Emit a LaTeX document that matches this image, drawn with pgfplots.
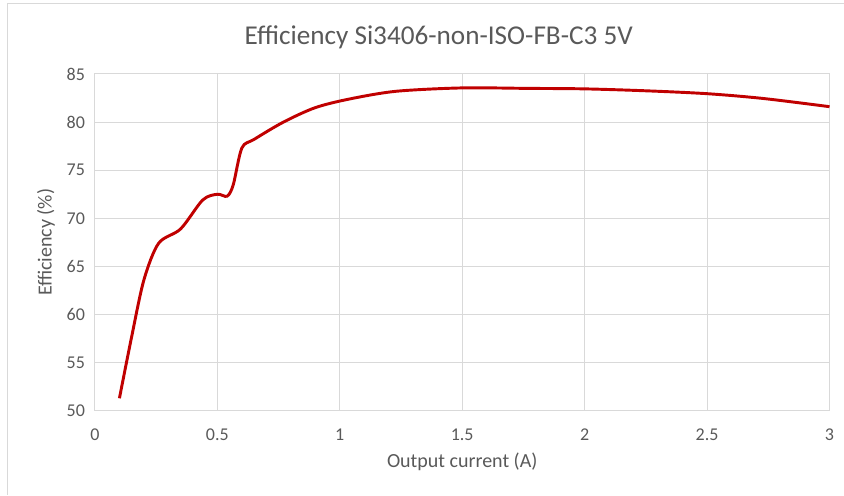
\documentclass[border=0pt]{standalone}
\usepackage{pgfplots}
\pgfplotsset{compat=1.18}
\usepackage{fontspec}
\setmainfont{Carlito}
\definecolor{txt}{HTML}{595959}
\definecolor{grd}{HTML}{D9D9D9}
\definecolor{ln}{HTML}{C00000}
\begin{document}
\begin{tikzpicture}
\path (0,0) rectangle (633pt,371.25pt);
\draw[grd, line width=0.75pt] (6pt,0pt) -- (6pt,368.25pt) -- (633pt,368.25pt);
\node[txt, font=\fontsize{20.4}{22}\selectfont] at (329.25pt,343.5pt) {Efficiency Si3406-non-ISO-FB-C3 5V};
\begin{axis}[
  at={(71.25pt,63pt)}, anchor=south west,
  width=551.25pt, height=252.75pt, scale only axis,
  xmin=0, xmax=3, ymin=50, ymax=85,
  xtick={0,0.5,...,3}, ytick={50,55,...,85},
  xticklabels={0,0.5,1,1.5,2,2.5,3},
  grid=major,
  major grid style={grd, line width=0.75pt},
  axis line style={grd, line width=0.75pt},
  tick style={draw=none},
  /pgf/number format/assume math mode=true,
  ticklabel style={txt, font=\fontsize{13.5}{15}\selectfont},
  xticklabel style={yshift=-10pt},
  yticklabel style={xshift=-4pt},
  xlabel={Output current (A)}, ylabel={Efficiency (\%)},
  label style={txt, font=\fontsize{15}{17}\selectfont},
  xlabel style={yshift=-2pt},
  ylabel style={yshift=2pt},
]
\addplot[ln, line width=2.2pt, smooth, tension=0.5] coordinates {
(0.10,51.3) (0.15,57.7) (0.20,63.6) (0.26,67.4) (0.35,68.9) (0.44,71.9)
(0.50,72.5) (0.54,72.3) (0.565,73.5) (0.60,77.3) (0.65,78.2) (0.77,80.0)
(0.90,81.5) (1.04,82.4) (1.23,83.2) (1.50,83.55) (1.77,83.5) (2.00,83.45)
(2.25,83.25) (2.50,82.95) (2.73,82.45) (3.00,81.6)
};
\end{axis}
\end{tikzpicture}
\end{document}
